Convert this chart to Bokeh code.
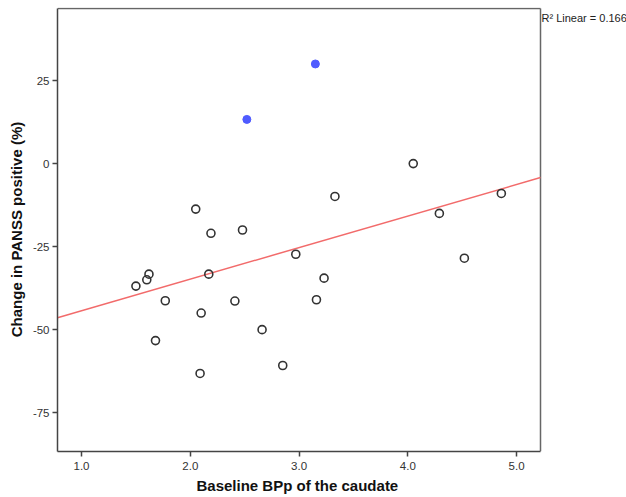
from bokeh.plotting import figure
from bokeh.models import FixedTicker, Label, Range1d, CustomJSTickFormatter, Title
from bokeh.embed import file_html
from bokeh.resources import INLINE
import numpy as np

# Open circles (main sample)
x_open = [2.05, 2.19, 2.48, 3.33, 4.05, 4.29, 4.86, 1.50, 1.60, 1.62, 1.77, 1.68,
          2.10, 2.17, 2.09, 2.41, 2.66, 2.85, 2.97, 3.16, 3.23, 4.52]
y_open = [-13.7, -21.0, -20.0, -9.9, 0.0, -15.0, -9.0, -36.9, -35.0, -33.3, -41.3, -53.3,
          -45.0, -33.3, -63.2, -41.4, -50.0, -60.8, -27.3, -41.0, -34.5, -28.5]
# Filled blue points
x_blue = [2.52, 3.15]
y_blue = [13.3, 30.0]
# Linear fit as drawn
fit_intercept = -53.8
fit_slope = 9.5
r2_text = "R\u00b2 Linear = 0.166"
x_label = "Baseline BPp of the caudate"
y_label = "Change in PANSS positive (%)"

x_ticks = [1.0, 2.0, 3.0, 4.0, 5.0]
y_ticks = [-75, -50, -25, 0, 25]
x_min, x_max = 0.779, 5.22
y_min, y_max = -86.7, 46.7

# layout (pixels)
W, H = 626, 497
left, top, bottom = 57, 7, 46
plot_px_w = 483                      # visible box width
frame_px_w = W - left                # frame reaches the right edge so the R² note can show
x_per_px = (x_max - x_min) / plot_px_w
x_frame_max = x_min + frame_px_w * x_per_px
y_per_px = (y_max - y_min) / 443.0
y_frame_max = y_max + 1 * y_per_px

p = figure(width=W, height=H, output_backend="svg", toolbar_location=None,
           x_range=Range1d(x_min, x_frame_max), y_range=Range1d(y_min, y_frame_max),
           min_border_left=left, min_border_right=0, min_border_top=top,
           min_border_bottom=bottom)
p.background_fill_color = "white"
p.border_fill_color = "white"
p.outline_line_color = None
p.grid.visible = False

# box border (top and right)
p.segment(x0=[x_min, x_max], y0=[y_max, y_min], x1=[x_max, x_max], y1=[y_max, y_max],
          line_color="#666666", line_width=1.5)

fx = np.array([x_min, x_max])
p.line(fx, fit_intercept + fit_slope * fx, line_color="#f26b6b", line_width=1.5)

p.scatter(x_open, y_open, size=8, fill_color=None, line_color="#333333", line_width=1.6)
p.scatter(x_blue, y_blue, size=8, fill_color="#4f5bff", line_color="#4f5bff", line_width=1)

for ax in (p.xaxis[0], p.yaxis[0]):
    ax.axis_line_color = "#444444"
    ax.axis_line_width = 1.5
    ax.major_tick_line_color = "#444444"
    ax.major_tick_line_width = 1.5
    ax.major_tick_out = 5
    ax.major_tick_in = 0
    ax.minor_tick_line_color = None
    ax.major_label_text_font = "Liberation Sans"
    ax.major_label_text_font_size = "11.5px"
    ax.major_label_text_color = "#333333"
    ax.axis_label_text_font = "Liberation Sans"
    ax.axis_label_text_font_size = "15px"
    ax.axis_label_text_font_style = "bold"
    ax.axis_label_text_color = "#111111"

p.xaxis[0].ticker = FixedTicker(ticks=x_ticks)
p.xaxis[0].formatter = CustomJSTickFormatter(code="return tick.toFixed(1);")
p.xaxis[0].bounds = (x_min, x_max)
p.yaxis[0].ticker = FixedTicker(ticks=y_ticks)
p.yaxis[0].formatter = CustomJSTickFormatter(code="return tick.toFixed(0);")
p.yaxis[0].bounds = (y_min, y_max)
p.yaxis[0].axis_label = y_label
p.xaxis[0].major_label_standoff = 5
p.yaxis[0].major_label_standoff = 3
p.yaxis[0].axis_label_standoff = 5

# x-axis title centred under the visible box (not the widened frame)
p.add_layout(Title(text=x_label, align="left", offset=139, standoff=4,
                   text_font="Liberation Sans", text_font_size="15px",
                   text_font_style="bold", text_color="#111111"), "below")

p.add_layout(Label(x=x_max, y=y_max, text=r2_text, x_offset=1, y_offset=-3,
                   text_baseline="top", text_font="Liberation Sans",
                   text_font_size="11px", text_color="#222222"))

open("out.html", "w").write(file_html(p, INLINE))
